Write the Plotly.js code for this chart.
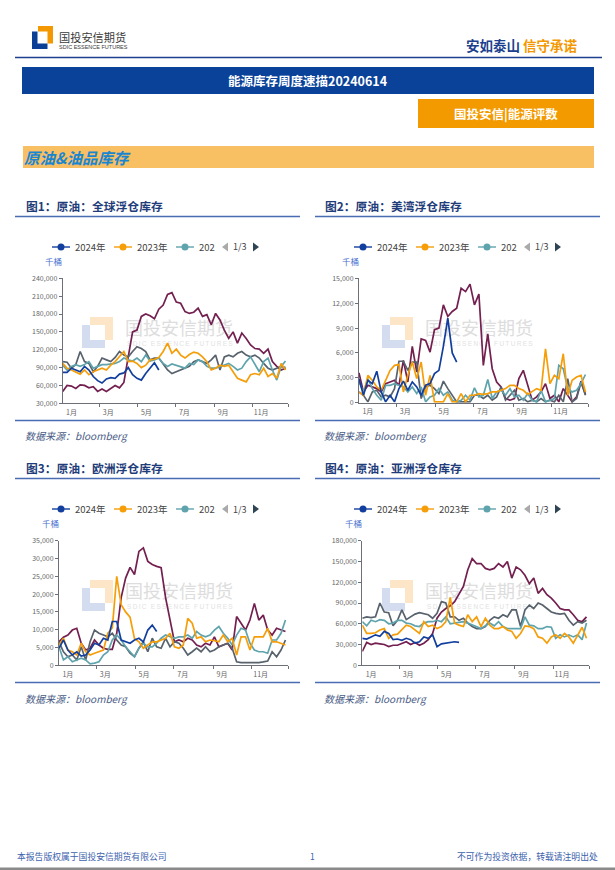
<!DOCTYPE html>
<html><head><meta charset="utf-8">
<script src="https://cdn.plot.ly/plotly-3.0.1.min.js"></script>
<style>
html,body{margin:0;padding:0;background:#fff;}
#wrap{position:relative;width:615px;height:870px;overflow:hidden;background:#fff;}
#plot{position:absolute;left:0;top:0;width:615px;height:870px;}
.wmt{position:absolute;white-space:nowrap;font-family:'Noto Sans CJK SC','Noto Sans',sans-serif;color:#dddddd;line-height:1;}
.wms{position:absolute;white-space:nowrap;font-family:'Liberation Sans','Noto Sans',sans-serif;color:#e2e2e2;line-height:1;font-size:6.5px;letter-spacing:1.3px;}
.wml{position:absolute;width:31px;height:31px;}
</style></head><body>
<div id="wrap"><div id="wm"></div><div id="plot"></div></div>
<script>
// ---------------- data ----------------
const monthLabels = ['1月','3月','5月','7月','9月','11月'];
const seriesNames = ['2024年','2023年','2022年','2021年','2020年'];
const legendLabels = ['2024年','2023年','202'];
const chartTitles = ['图1：原油：全球浮仓库存','图2：原油：美湾浮仓库存','图3：原油：欧洲浮仓库存','图4：原油：亚洲浮仓库存'];
const unitLabel = '千桶';
const sourceLabel = '数据来源：bloomberg';

// 全球浮仓库存 (千桶), weekly
const global2024 = [82000,82000,89000,86000,83000,92000,86000,75000,68000,64000,71000,73000,72000,79000,81000,90000,78000,72000,69000,80000,90000,98000,86000];
const global2023 = [97000,89000,86000,83000,79000,86000,78000,83000,86000,89000,86000,94000,100000,108000,117000,100000,101000,97000,90000,94000,103000,104000,107000,117000,131000,114000,121000,111000,106000,112000,116000,114000,108000,100000,86000,89000,94000,92000,94000,83000,72000,69000,66000,78000,80000,78000,89000,75000,80000,72000,97000,86000];
const global2022 = [94000,86000,92000,95000,92000,95000,100000,89000,92000,95000,95000,96000,97000,100000,106000,103000,101000,106000,100000,111000,101000,103000,106000,97000,92000,96000,94000,92000,89000,97000,95000,103000,100000,92000,89000,89000,92000,94000,97000,92000,86000,89000,100000,108000,95000,83000,100000,106000,86000,69000,92000,101000];
const global2021 = [100000,99000,89000,95000,117000,100000,97000,83000,92000,106000,103000,100000,107000,117000,111000,108000,117000,125000,122000,117000,103000,106000,106000,95000,86000,80000,83000,86000,89000,92000,100000,103000,100000,97000,103000,111000,86000,108000,111000,108000,114000,117000,111000,108000,111000,106000,97000,89000,86000,89000,92000,90000];
const global2020 = [50000,60000,59000,55000,61000,60000,56000,58000,50000,54000,50000,55000,60000,56000,65000,108000,150000,153000,176000,180000,177000,172000,188000,195000,213000,216000,200000,198000,184000,181000,183000,190000,176000,179000,162000,181000,170000,153000,139000,150000,131000,148000,139000,128000,122000,121000,114000,121000,100000,92000,86000,89000];

// 美湾浮仓库存
const usg2024 = [2900,900,2700,2300,3800,1300,100,900,100,1700,2600,1500,2500,1900,900,2100,2300,3500,3900,6800,10200,6000,4900];
const usg2023 = [1300,900,3300,2700,1900,1500,2700,3900,4500,4600,1300,3300,4900,2900,4900,900,3300,100,100,100,1100,100,100,1100,100,900,900,1100,1000,1100,1300,1300,1500,1700,2100,2100,1700,1500,1000,1300,1700,1500,6500,2300,3300,2900,5900,900,2700,3100,3300,1300];
const usg2022 = [2500,1300,2900,1700,900,300,2100,2100,2300,2100,1900,1300,1900,1100,1900,100,700,900,1700,900,1300,300,100,300,900,300,1800,700,900,2800,500,1300,1500,900,1700,700,900,300,1100,300,100,1500,100,300,500,4500,4100,1700,1300,1500,2300,3400];
const usg2021 = [1300,900,100,1300,1500,700,900,700,1700,5000,5000,3900,4900,4900,500,1900,2100,1700,1100,2600,1700,900,100,100,100,100,900,900,500,900,300,700,1900,300,900,1500,300,500,100,300,100,500,100,300,100,900,100,2900,100,500,2500,900];
const usg2020 = [3600,1300,2100,1900,1700,1300,2300,2500,2700,2100,5100,2500,6800,3700,7700,7500,6100,8800,9000,11800,10400,11000,11400,13800,13400,14300,11800,13100,4500,8300,4100,2500,1900,500,300,500,2900,3900,2100,300,700,1300,2300,500,900,100,1700,900,100,700,2600,1000];

// 欧洲浮仓库存
const eu2024 = [4800,7100,4300,2900,3800,2600,2900,4300,6200,5700,7600,7100,12300,12300,7100,6600,6200,7100,7600,6600,9900,11300,9500];
const eu2023 = [5700,7600,4300,3800,2900,6200,3800,2900,3400,3800,4300,9000,10500,25000,17000,15000,13500,7500,6600,4800,5700,6600,6600,7100,7600,9000,5200,4800,5700,13200,11800,7600,8000,6600,7100,6900,6600,8500,6600,7600,2900,8000,8000,4300,8000,8000,8000,10400,6600,6600,6200,5700];
const eu2022 = [5200,1500,2400,1000,1500,2000,1500,400,600,1000,2900,3800,7100,8500,7100,5200,3800,2400,4800,6200,5200,5200,6200,7600,8500,8000,7600,8000,8000,8500,7600,9500,8500,8000,8500,9900,10900,9000,7600,5700,8500,10400,9900,6200,4300,3800,3800,3400,7100,7100,9000,12700];
const eu2021 = [6600,3800,2400,2900,1500,5200,1500,6600,9900,9000,8500,8000,9000,7100,5700,5200,3400,2400,4800,6600,3800,7600,5200,4800,7600,5200,6600,6200,4800,2900,3800,4800,3800,5200,3800,4300,5200,5700,6200,4800,1000,750,750,600,750,750,950,1200,3800,2400,4300,7100];
const eu2020 = [6600,7900,8500,9900,10400,6200,4300,4800,7100,5700,4800,4500,4500,9000,19000,24500,27500,25500,32000,33000,29200,28300,27800,27400,19000,12700,6600,7100,6600,7600,7100,5700,5200,6200,5700,8000,5200,5700,6200,4300,13700,11800,9900,12700,17400,12700,14100,9900,8500,10400,9900,9500];

// 亚洲浮仓库存
const as2024 = [39000,38000,41000,44000,42000,49000,46000,37000,38000,36000,39000,37000,32000,34000,41000,39000,44000,27000,31000,32000,33000,34000,33000];
const as2023 = [58000,46000,46000,47000,51000,53000,39000,44000,45000,51000,58000,56000,51000,46000,63000,56000,58000,53000,56000,63000,98000,61000,58000,56000,73000,63000,70000,56000,68000,58000,53000,53000,56000,51000,49000,39000,46000,57000,56000,53000,41000,39000,32000,41000,44000,39000,46000,41000,32000,44000,55000,39000];
const as2022 = [63000,57000,65000,63000,66000,65000,60000,61000,65000,65000,61000,60000,57000,56000,61000,63000,63000,65000,63000,70000,60000,61000,61000,63000,61000,58000,55000,53000,57000,61000,57000,63000,56000,53000,53000,53000,53000,70000,58000,57000,53000,53000,56000,55000,39000,44000,41000,44000,41000,44000,37000,61000];
const as2021 = [68000,70000,69000,70000,90000,77000,76000,57000,65000,80000,66000,70000,74000,76000,75000,73000,68000,75000,92000,90000,70000,70000,65000,68000,61000,56000,53000,53000,56000,65000,70000,68000,73000,70000,80000,80000,56000,80000,87000,82000,90000,87000,82000,77000,75000,74000,75000,65000,58000,63000,61000,65000];
const as2020 = [20000,33000,30000,32000,31000,30000,27000,29000,29000,32000,34000,30000,33000,29000,32000,37000,46000,68000,77000,82000,86000,92000,104000,114000,138000,154000,147000,147000,140000,138000,140000,147000,142000,150000,126000,142000,138000,130000,118000,126000,104000,111000,102000,97000,90000,82000,80000,80000,73000,65000,63000,70000];

const globalTicks = [30000,60000,90000,120000,150000,180000,210000,240000];
const usgTicks = [0,3000,6000,9000,12000,15000];
const euTicks = [0,5000,10000,15000,20000,25000,30000,35000];
const asTicks = [0,30000,60000,90000,120000,150000,180000];

// ---------------- layout helpers ----------------
const W = 615, H = 870;
const X = p => p / W, Y = p => 1 - p / H;
const F = "'Noto Sans CJK SC','Noto Sans',sans-serif";
const COLORS = ['#123f9e', '#f59e0a', '#5fa3ad', '#58626d', '#731f4f'];
const monthMid = [15, 74, 135, 196, 258, 319];
const monthStart = [60, 121, 182, 244, 305, 362];
const weekDays = n => Array.from({length: n}, (_, i) => 1 + 7 * i);

const charts = [
  {data: [global2024, global2023, global2022, global2021, global2020], ticks: globalTicks, range: [30000, 240000],
   px: [62.7, 288], py: [278.3, 403.3], left: 15, top: 190, titleX: 24, legL: 52, unitX: 53},
  {data: [usg2024, usg2023, usg2022, usg2021, usg2020], ticks: usgTicks, range: [0, 15000],
   px: [359, 588], py: [278.3, 402.7], left: 315, top: 190, titleX: 323, legL: 354, unitX: 350},
  {data: [eu2024, eu2023, eu2022, eu2021, eu2020], ticks: euTicks, range: [0, 35000],
   px: [59, 288], py: [540.7, 665.3], left: 15, top: 452, titleX: 24, legL: 52, unitX: 50},
  {data: [as2024, as2023, as2022, as2021, as2020], ticks: asTicks, range: [0, 180000],
   px: [362.3, 589], py: [540.7, 665.3], left: 315, top: 452, titleX: 323, legL: 354, unitX: 353}
];

const traces = [], shapes = [], annotations = [];
const layout = {
  width: W, height: H, margin: {l: 0, r: 0, t: 0, b: 0},
  paper_bgcolor: 'rgba(0,0,0,0)', plot_bgcolor: 'rgba(0,0,0,0)',
  showlegend: false, font: {family: F}
};

function rect(x0, y0, x1, y1, color) {
  shapes.push({type: 'rect', xref: 'paper', yref: 'paper', x0: X(x0), x1: X(x1), y0: Y(y1), y1: Y(y0),
    fillcolor: color, line: {width: 0}, layer: 'below'});
}
function hline(x0, x1, y, color, w) {
  shapes.push({type: 'line', xref: 'paper', yref: 'paper', x0: X(x0), x1: X(x1), y0: Y(y), y1: Y(y),
    line: {color: color, width: w}});
}
function poly(pts, color) {
  const d = pts.map((p, i) => (i ? 'L' : 'M') + X(p[0]).toFixed(5) + ',' + Y(p[1]).toFixed(5)).join(' ') + ' Z';
  shapes.push({type: 'path', xref: 'paper', yref: 'paper', path: d, fillcolor: color, line: {width: 0}});
}
function text(x, y, t, size, color, anchor, extra) {
  annotations.push(Object.assign({xref: 'paper', yref: 'paper', x: X(x), y: Y(y), text: t, showarrow: false,
    xanchor: anchor || 'left', yanchor: 'middle', font: {size: size, color: color, family: F}}, extra || {}));
}

// ---------------- page header ----------------
// logo
poly([[38,26],[53,26],[53,43.5],[47.5,43.5],[47.5,31.5],[38,31.5]], '#f39800');
poly([[32,31.5],[37.5,31.5],[37.5,43.5],[47.5,43.5],[47.5,49],[32,49]], '#0b3f96');
text(57, 37, '国投安信期货', 11.2, '#3a3a3a');
text(57, 46.5, 'SDIC ESSENCE FUTURES', 5.5, '#3a3a3a', 'left', {font: {size: 5.5, color: '#3a3a3a', family: "'Liberation Sans Narrow','Liberation Sans',sans-serif"}});
text(580, 45, '<b><span style="color:#1c3f8e">安如泰山</span> <span style="color:#f39800">信守承诺</span></b>', 13.5, '#1c3f8e', 'right');
hline(15, 602, 57.5, '#1f3f8f', 1.6);
rect(22, 67, 594, 94, '#0a4299');
text(308, 80.5, '<b>能源库存周度速描20240614</b>', 12.5, '#ffffff', 'center');
rect(418, 99, 594, 128, '#f39a00');
text(506, 113.5, '<b>国投安信|能源评数</b>', 12.5, '#ffffff', 'center');
rect(23, 146, 594, 168, '#f9bf63');
text(22, 157.5, '<b><i>原油&amp;油品库存</i></b>', 15.5, '#1a86d0');

// footer
text(15, 856, '本报告版权属于国投安信期货有限公司', 8.8, '#3d62ad');
text(312, 856, '1', 8.5, '#3d62ad', 'center');
text(600, 856, '不可作为投资依据，转载请注明出处', 8.8, '#3d62ad', 'right');
rect(0, 867.5, 615, 870, '#8a8a8a');

// ---------------- charts ----------------
const wm = document.getElementById('wm');
charts.forEach((c, k) => {
  const n = k + 1;
  const xa = 'xaxis' + (n === 1 ? '' : n), ya = 'yaxis' + (n === 1 ? '' : n);
  layout[xa] = {
    domain: [X(c.px[0]), X(c.px[1])], anchor: 'y' + (n === 1 ? '' : n), range: [1, 362],
    showline: true, linecolor: '#6e7079', linewidth: 1, showgrid: false, zeroline: false, fixedrange: true,
    tickmode: 'array', tickvals: monthMid, ticktext: monthLabels, ticks: '',
    tickfont: {size: 7, color: '#666', family: F}, ticklabelstandoff: 2,
    minor: {tickmode: 'array', tickvals: monthStart, ticks: 'outside', ticklen: 3, tickcolor: '#6e7079', showgrid: false}
  };
  layout[ya] = {
    domain: [Y(c.py[1]), Y(c.py[0])], anchor: 'x' + (n === 1 ? '' : n), range: c.range,
    showline: true, linecolor: '#6e7079', linewidth: 1, showgrid: false, zeroline: false, fixedrange: true,
    tickmode: 'array', tickvals: c.ticks, tickformat: ',', ticks: 'outside', ticklen: 3, tickcolor: '#6e7079',
    tickfont: {size: 7, color: '#666', family: F}
  };
  // series, oldest first so 2024 is on top
  for (let s = c.data.length - 1; s >= 0; s--) {
    const v = c.data[s];
    traces.push({x: weekDays(v.length), y: v, type: 'scatter', mode: 'lines', name: seriesNames[s],
      xaxis: 'x' + (n === 1 ? '' : n), yaxis: 'y' + (n === 1 ? '' : n),
      line: {color: COLORS[s], width: 1.7}});
  }
  // title & frame lines
  const T = c.top;
  text(c.titleX, T + 16, '<b>' + chartTitles[k] + '</b>', 11.8, '#1f3d7a');
  hline(c.left, c.left + 285, T + 26.5, '#4a6cb3', 1.3);
  hline(c.left, c.left + 285, T + 230.5, '#4a6cb3', 1.3);
  text(c.titleX - 1, T + 246, '<i>' + sourceLabel + '</i>', 10, '#4a5c86');
  // legend
  const ly = T + 57;
  legendLabels.forEach((lab, j) => {
    const x0 = c.legL + 62 * j;
    hline(x0, x0 + 18, ly, COLORS[j], 1.4);
    shapes.push({type: 'circle', xref: 'paper', yref: 'paper', x0: X(x0 + 5.5), x1: X(x0 + 12.5), y0: Y(ly + 3.5), y1: Y(ly - 3.5),
      fillcolor: COLORS[j], line: {width: 0}});
    text(x0 + 21, ly, lab, 9.5, '#444');
  });
  const a0 = c.legL + 170;
  poly([[a0 + 6, ly - 4.5], [a0 + 6, ly + 4.5], [a0, ly]], '#aaaaaa');
  text(a0 + 18, ly, '1/3', 9, '#444', 'center');
  poly([[a0 + 31, ly - 4.5], [a0 + 31, ly + 4.5], [a0 + 37, ly]], '#2f4554');
  text(c.unitX, ly + 14, unitLabel, 8.5, '#4a70cf', 'center');
  // watermark (behind the plot)
  const wx = c.left + 67, wy = c.py[0] + 39;
  wm.insertAdjacentHTML('beforeend',
    `<svg class="wml" style="left:${wx}px;top:${wy}px" viewBox="0 0 31 31"><path d="M8,0 H31 V23 H23 V8 H8 Z" fill="#fde6c7"/><path d="M0,8 H8 V23 H23 V31 H0 Z" fill="#d4dcef"/></svg>` +
    `<div class="wmt" style="left:${wx + 43}px;top:${wy + 1}px;font-size:18px">国投安信期货</div>` +
    `<div class="wms" style="left:${wx + 45}px;top:${wy + 24}px">SDIC ESSENCE FUTURES</div>`);
});

layout.shapes = shapes;
layout.annotations = annotations;
Plotly.newPlot('plot', traces, layout, {staticPlot: true, displayModeBar: false});
</script>
</body></html>
